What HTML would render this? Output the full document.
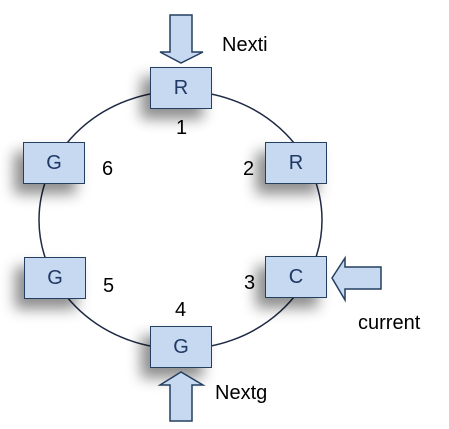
<!DOCTYPE html>
<html><head><meta charset="utf-8"><style>
html,body{margin:0;padding:0;background:#fff;width:449px;height:429px;overflow:hidden}
.b{position:absolute;width:60px;height:40px;background:#c6d9f0;border:1.5px solid #243f60;box-shadow:-9px 10px 14px rgba(0,0,0,0.45);font:20px "Liberation Sans",sans-serif;color:#1f3864;text-align:center;line-height:40px}
.t{position:absolute;font:20px "Liberation Sans",sans-serif;color:#000}
svg{position:absolute;left:0;top:0}
</style></head><body>
<svg width="449" height="429">
<ellipse cx="180.5" cy="220" rx="141.5" ry="129" fill="none" stroke="#1f2a44" stroke-width="1.5"/>
</svg>
<div class="b" style="left:150px;top:67px">R</div>
<div class="b" style="left:265px;top:142px">R</div>
<div class="b" style="left:265px;top:256px">C</div>
<div class="b" style="left:150px;top:326px">G</div>
<div class="b" style="left:23px;top:142px">G</div>
<div class="b" style="left:24px;top:257px">G</div>
<svg width="449" height="429" style="z-index:2">
<g fill="#c6d9f0" stroke="#243f60" stroke-width="1.5">
<polygon points="170,15 192,15 192,52 203,52 181,63 160,52 170,52"/>
<polygon points="170,421 192,421 192,385 203,385 181,372 160,385 170,385"/>
<polygon points="381,267 381,289 345,289 345,300 332,278 345,258 345,267"/>
</g>
</svg>
<div class="t" style="left:222px;top:34px">Nexti</div>
<div class="t" style="left:176px;top:117px">1</div>
<div class="t" style="left:243px;top:158px">2</div>
<div class="t" style="left:244px;top:272px">3</div>
<div class="t" style="left:175px;top:299px">4</div>
<div class="t" style="left:103px;top:275px">5</div>
<div class="t" style="left:102px;top:158px">6</div>
<div class="t" style="left:358px;top:312px">current</div>
<div class="t" style="left:215px;top:382px">Nextg</div>
</body></html>
